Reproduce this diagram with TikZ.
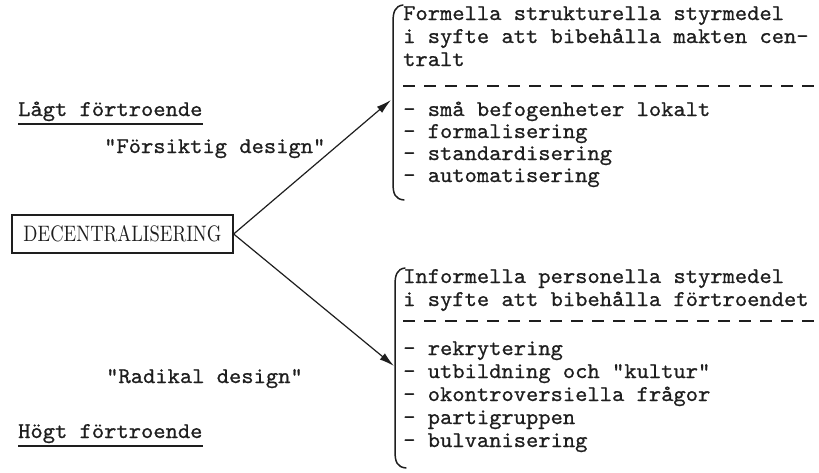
\documentclass[tikz,border=0pt]{standalone}
\usepackage{fontspec}
\usepackage{graphicx}
\newfontfamily\tw[FakeStretch=1.04,FakeBold=0.8]{lmmono10-regular.otf}
\usetikzlibrary{arrows.meta}
\definecolor{ink}{HTML}{1E1E1E}
\begin{document}
\begin{tikzpicture}[x=1pt,y=-1pt,
  txt/.style={font={\tw\fontsize{22.5pt}{23pt}\selectfont}, anchor=base west, inner sep=0pt, text=ink},
  brace/.style={draw=ink, line width=1.5pt, line cap=round},
  conn/.style={draw=ink, line width=1.2pt, -{Latex[length=15pt,width=8pt]}},
  sep/.style={draw=ink, line width=1.4pt, dash pattern=on 12pt off 9pt},
  uline/.style={draw=ink, line width=1.1pt}]
\useasboundingbox (0,0) rectangle (819,472);
\fill[white] (0,0) rectangle (819,472);

% left labels
\node[txt] (lagt) at (18,116) {Lågt förtroende};
\draw[uline] (18,124) -- (lagt.base east |- 0,124);
\node[txt] (fors) at (104,153) {"Försiktig design"};
\node[draw=ink, line width=1.3pt, minimum width=221pt, minimum height=38pt, inner sep=0pt, text=ink] (dec) at (122.5,234)
  {\resizebox{198pt}{16pt}{\rmfamily DECENTRALISERING}};
\node[txt] (rad) at (106,383) {"Radikal design"};
\node[txt] (hogt) at (18,438) {Högt förtroende};
\draw[uline] (18,446) -- (hogt.base east |- 0,446);

% braces
\draw[brace] (403,5) .. controls (395,6) and (393,12) .. (393,22) -- (393,183) .. controls (393,194) and (395,199) .. (404,200);
\draw[brace] (405,268) .. controls (397,269) and (395,275) .. (395,285) -- (395,451) .. controls (395,462) and (397,467) .. (406,468);

% arrows
\coordinate (tipA) at (391,100);
\coordinate (tipB) at (394,366);
\draw[conn] (dec.east) -- (tipA);
\draw[conn] (dec.east) -- (tipB);

% top block
\node[txt] (a1) at (403,20) {Formella strukturella styrmedel};
\node[txt] (a2) at (403,43) {i syfte att bibehålla makten cen-};
\node[txt] (a3) at (403,66) {tralt};
\draw[sep] (403,86) -- (819,86);
\node[txt] (a4) at (403,116) {- små befogenheter lokalt};
\node[txt] (a5) at (403,138) {- formalisering};
\node[txt] (a6) at (403,160) {- standardisering};
\node[txt] (a7) at (403,182) {- automatisering};

% bottom block
\node[txt] (b1) at (403,283) {Informella personella styrmedel};
\node[txt] (b2) at (403,306) {i syfte att bibehålla förtroendet};
\draw[sep] (403,321) -- (815,321);
\node[txt] (b3) at (403,355) {- rekrytering};
\node[txt] (b4) at (403,378) {- utbildning och "kultur"};
\node[txt] (b5) at (403,401) {- okontroversiella frågor};
\node[txt] (b6) at (403,424) {- partigruppen};
\node[txt] (b7) at (403,447) {- bulvanisering};
\end{tikzpicture}
\end{document}
